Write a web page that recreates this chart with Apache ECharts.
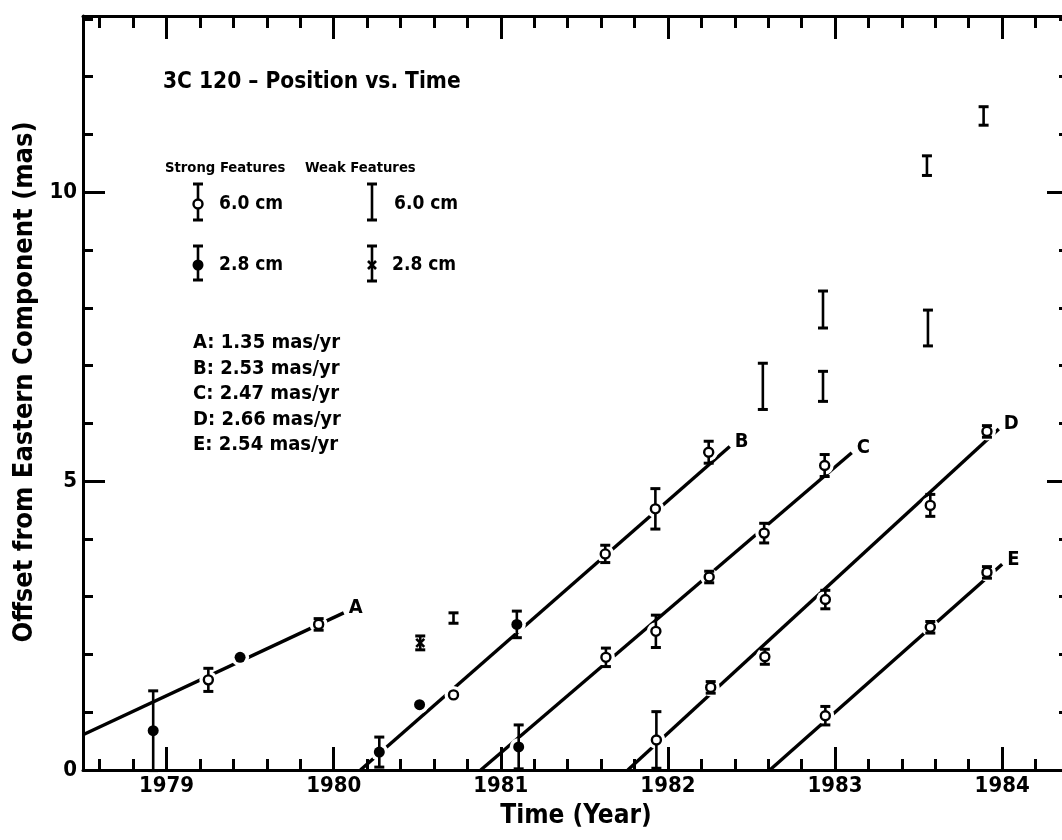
<!DOCTYPE html>
<html><head><meta charset="utf-8">
<script src="https://cdn.jsdelivr.net/npm/echarts@6/dist/echarts.min.js"></script>
<style>html,body{margin:0;padding:0;background:#fff;overflow:hidden}#c{width:1062px;height:840px}</style>
</head><body><div id="c"></div>
<script>
// ---- tick values ----
const majorYears = [1979, 1980, 1981, 1982, 1983, 1984];
const minorYears = [1978.6, 1978.8, 1979.2, 1979.4, 1979.6, 1979.8, 1980.2, 1980.4, 1980.6, 1980.8,
  1981.2, 1981.4, 1981.6, 1981.8, 1982.2, 1982.4, 1982.6, 1982.8, 1983.2, 1983.4, 1983.6, 1983.8, 1984.2];
const majorOffsets = [0, 5, 10];
const minorOffsets = [1, 2, 3, 4, 6, 7, 8, 9, 11, 12, 13];

// ---- fitted lines [year, offset] ----
const fitA = [[1978.5, 0.61], [1980.06, 2.72]];
const fitB = [[1980.16, 0], [1982.37, 5.60]];
const fitC = [[1980.88, 0], [1983.10, 5.49]];
const fitD = [[1981.76, 0], [1983.98, 5.90]];
const fitE = [[1982.61, 0], [1984.00, 3.56]];

// ---- measurements [year, offset, error] ----
const strong6cm = [
  [1979.25, 1.56, 0.20], [1979.91, 2.52, 0.10],
  [1980.717, 1.30, 0], [1981.625, 3.74, 0.15], [1981.925, 4.52, 0.35], [1982.244, 5.50, 0.19],
  [1981.629, 1.95, 0.16], [1981.928, 2.40, 0.28], [1982.247, 3.34, 0.10], [1982.576, 4.10, 0.17], [1982.938, 5.27, 0.19],
  [1981.931, 0.52, 0.49], [1982.256, 1.43, 0.10], [1982.580, 1.96, 0.13], [1982.942, 2.95, 0.16], [1983.570, 4.58, 0.19], [1983.909, 5.86, 0.10],
  [1982.942, 0.94, 0.16], [1983.570, 2.47, 0.10], [1983.909, 3.42, 0.10]
];
const strong28cm = [
  [1978.92, 0.68, 0.69], [1979.44, 1.95, 0], [1980.273, 0.31, 0.26], [1980.514, 1.13, 0],
  [1981.096, 2.52, 0.23], [1981.107, 0.40, 0.38]
];
const weak6cm = [
  [1980.717, 2.63, 0.09], [1982.568, 6.64, 0.40], [1982.928, 6.64, 0.26], [1982.928, 7.97, 0.32],
  [1983.556, 7.65, 0.31], [1983.55, 10.46, 0.17], [1983.889, 11.32, 0.16]
];
const weak28cm = [[1980.518, 2.20, 0.12]];

// ---- texts ----
const titleText = '3C 120 \u2013 Position vs. Time';
const rateLines = ['A: 1.35 mas/yr', 'B: 2.53 mas/yr', 'C: 2.47 mas/yr', 'D: 2.66 mas/yr', 'E: 2.54 mas/yr'];
const xName = 'Time (Year)';
const yName = 'Offset from Eastern Component (mas)';

const FONT = '"DejaVu Sans Condensed", "DejaVu Sans", sans-serif';
const XMIN = 1978.5, XMAX = 1984.4, YMIN = 0, YMAX = 13.05;

function xAx(pos, vals, len, main) {
  return {
    type: 'value', position: pos, min: XMIN, max: XMAX, gridIndex: 0,
    axisLine: { show: main, onZero: false, lineStyle: { color: '#000', width: 3 } },
    axisTick: { show: true, inside: true, length: len, customValues: vals, lineStyle: { color: '#000', width: 3 } },
    axisLabel: (main && pos === 'bottom') ? { show: true, customValues: majorYears, margin: 5,
      color: '#000', fontSize: 22, fontWeight: 'bold', fontFamily: FONT, formatter: v => String(Math.round(v)) } : { show: false },
    splitLine: { show: false },
    name: (main && pos === 'bottom') ? xName : '', nameLocation: 'middle', nameGap: 33,
    nameTextStyle: { color: '#000', fontSize: 26, fontWeight: 'bold', fontFamily: FONT }
  };
}
function yAx(pos, vals, len, main) {
  return {
    type: 'value', position: pos, min: YMIN, max: YMAX, gridIndex: 0,
    axisLine: { show: main && pos === 'left', onZero: false, lineStyle: { color: '#000', width: 3 } },
    axisTick: { show: true, inside: true, length: len, customValues: vals, lineStyle: { color: '#000', width: 3 } },
    axisLabel: (main && pos === 'left') ? { show: true, customValues: majorOffsets, margin: 6,
      color: '#000', fontSize: 22, fontWeight: 'bold', fontFamily: FONT } : { show: false },
    splitLine: { show: false },
    name: (main && pos === 'left') ? yName : '', nameLocation: 'middle', nameGap: 42,
    nameTextStyle: { color: '#000', fontSize: 27, fontWeight: 'bold', fontFamily: FONT, padding: [0, 0, 0, 22] }
  };
}

function pointRenderer(kind) {
  return function (params, api) {
    const x = api.value(0), y = api.value(1), e = api.value(2);
    const c = api.coord([x, y]);
    const t = api.coord([x, y + e]);
    const b = api.coord([x, y - e]);
    const ch = [];
    const ls = { stroke: '#000', lineWidth: 2.6 };
    if (kind === 'halo') {
      return { type: 'circle', shape: { cx: c[0], cy: c[1], r: 9 }, style: { fill: '#fff' } };
    }
    if (e > 0) {
      ch.push({ type: 'line', shape: { x1: c[0], y1: t[1], x2: c[0], y2: b[1] }, style: ls });
      ch.push({ type: 'line', shape: { x1: c[0] - 5, y1: t[1], x2: c[0] + 5, y2: t[1] }, style: { stroke: '#000', lineWidth: 3 } });
      ch.push({ type: 'line', shape: { x1: c[0] - 5, y1: b[1], x2: c[0] + 5, y2: b[1] }, style: { stroke: '#000', lineWidth: 3 } });
    }
    if (kind === 'open') {
      ch.push({ type: 'circle', shape: { cx: c[0], cy: c[1], r: 4.5 }, style: { fill: '#fff', stroke: '#000', lineWidth: 2.4 } });
    } else if (kind === 'filled') {
      ch.push({ type: 'circle', shape: { cx: c[0], cy: c[1], r: 5.5 }, style: { fill: '#000' } });
    } else if (kind === 'cross') {
      ch.push({ type: 'line', shape: { x1: c[0] - 4, y1: c[1] - 4, x2: c[0] + 4, y2: c[1] + 4 }, style: ls });
      ch.push({ type: 'line', shape: { x1: c[0] - 4, y1: c[1] + 4, x2: c[0] + 4, y2: c[1] - 4 }, style: ls });
    }
    return { type: 'group', children: ch };
  };
}

function fitSeries(data, name) {
  return {
    type: 'line', name: name, data: data, xAxisIndex: 0, yAxisIndex: 0, z: 2,
    showSymbol: false, symbol: 'none', silent: true, animation: false,
    lineStyle: { color: '#000', width: 3.4 },
    endLabel: { show: true, formatter: name, distance: 5, offset: [0, -5], color: '#000', fontSize: 20, fontWeight: 'bold', fontFamily: FONT }
  };
}
function ptSeries(data, kind, z) {
  return { type: 'custom', data: data, xAxisIndex: 0, yAxisIndex: 0, z: z, silent: true, animation: false,
    clip: false, renderItem: pointRenderer(kind) };
}

// legend graphics (pixel layout)
function legendBar(x, y1, y2) {
  return [
    { type: 'line', shape: { x1: x, y1: y1, x2: x, y2: y2 }, style: { stroke: '#000', lineWidth: 2.6 } },
    { type: 'line', shape: { x1: x - 5, y1: y1, x2: x + 5, y2: y1 }, style: { stroke: '#000', lineWidth: 3 } },
    { type: 'line', shape: { x1: x - 5, y1: y2, x2: x + 5, y2: y2 }, style: { stroke: '#000', lineWidth: 3 } }
  ];
}
function txt(x, y, s, size, weight) {
  return { type: 'text', x: x, y: y, style: { text: s, fill: '#000', font: (weight || 'bold') + ' ' + size + 'px ' + FONT, textVerticalAlign: 'middle' } };
}
const graphics = [];
graphics.push(txt(163, 82, titleText, 22.5));
graphics.push(txt(165, 168, 'Strong Features', 14.7));
graphics.push(txt(305, 168, 'Weak Features', 14.7));
graphics.push(...legendBar(198, 184, 220));
graphics.push({ type: 'circle', shape: { cx: 198, cy: 204, r: 4.5 }, style: { fill: '#fff', stroke: '#000', lineWidth: 2.4 } });
graphics.push(txt(219, 204, '6.0 cm', 19));
graphics.push(...legendBar(198, 246, 280));
graphics.push({ type: 'circle', shape: { cx: 198, cy: 265, r: 5.5 }, style: { fill: '#000' } });
graphics.push(txt(219, 265, '2.8 cm', 19));
graphics.push(...legendBar(372, 184, 220));
graphics.push(txt(394, 204, '6.0 cm', 19));
graphics.push(...legendBar(372, 246, 281));
graphics.push({ type: 'line', shape: { x1: 368, y1: 261, x2: 376, y2: 269 }, style: { stroke: '#000', lineWidth: 2.6 } });
graphics.push({ type: 'line', shape: { x1: 368, y1: 269, x2: 376, y2: 261 }, style: { stroke: '#000', lineWidth: 2.6 } });
graphics.push(txt(392, 265, '2.8 cm', 19));
rateLines.forEach((s, i) => graphics.push(txt(193, 343 + i * 25.5, s, 20)));

const chart = echarts.init(document.getElementById('c'), null, { renderer: 'canvas' });
chart.setOption({
  backgroundColor: '#fff',
  animation: false,
  grid: { left: 83, top: 16, width: 986, height: 754, containLabel: false, outerBoundsMode: 'none' },
  xAxis: [xAx('bottom', majorYears, 23, true), xAx('bottom', minorYears, 11, false),
          xAx('top', majorYears, 23, true), xAx('top', minorYears, 12, false)],
  yAxis: [yAx('left', majorOffsets, 22, true), yAx('left', minorOffsets, 10, false),
          yAx('right', majorOffsets, 22, true), yAx('right', minorOffsets, 10, false)],
  graphic: graphics,
  series: [
    fitSeries(fitA, 'A'), fitSeries(fitB, 'B'), fitSeries(fitC, 'C'), fitSeries(fitD, 'D'), fitSeries(fitE, 'E'),
    ptSeries(strong6cm, 'halo', 3), ptSeries(strong28cm, 'halo', 3),
    ptSeries(strong6cm, 'open', 4), ptSeries(strong28cm, 'filled', 4),
    ptSeries(weak6cm, 'bar', 4), ptSeries(weak28cm, 'cross', 4)
  ]
});
</script></body></html>
